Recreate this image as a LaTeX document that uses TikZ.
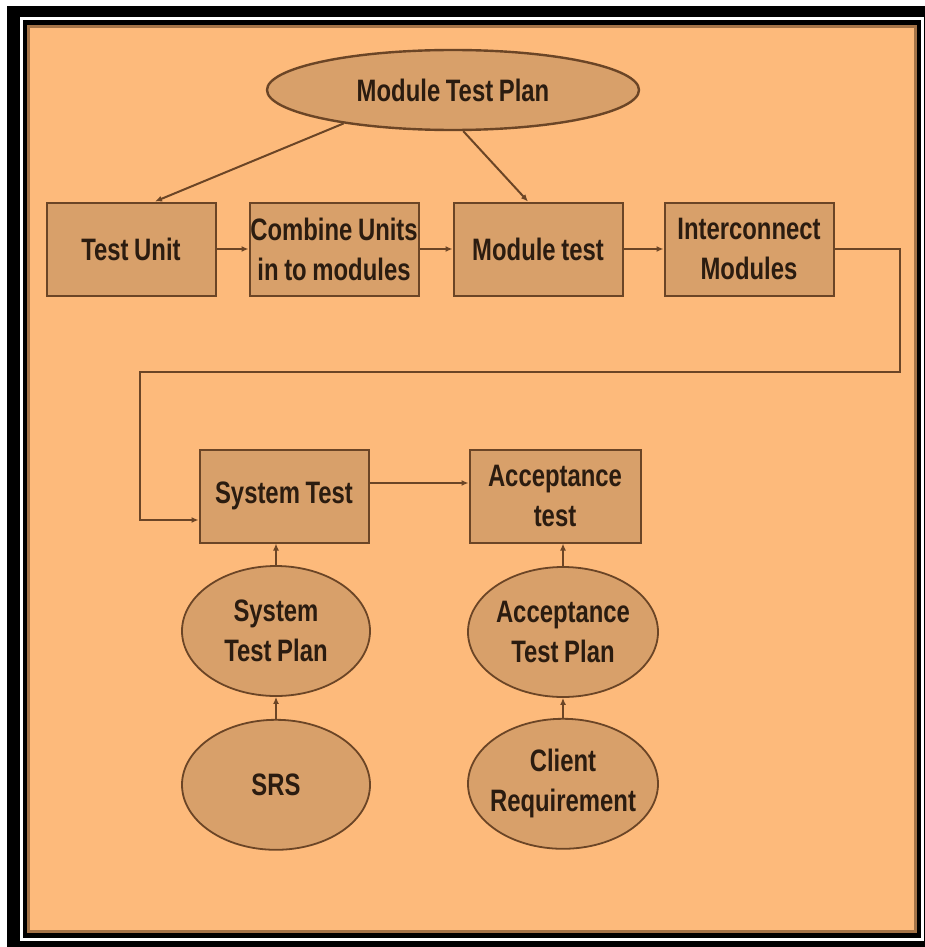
\documentclass[tikz,border=0pt]{standalone}
\usepackage{fontspec}
\setmainfont[FakeStretch=0.77, WordSpace=0.85]{Liberation Sans}
\usetikzlibrary{shapes, arrows.meta, positioning}
\definecolor{panelbg}{HTML}{FDBA7B}
\definecolor{nodefill}{HTML}{D8A06A}
\definecolor{edgebrown}{HTML}{6B4526}
\definecolor{inkdark}{HTML}{2B1C10}
\begin{document}
\begin{tikzpicture}[x=1pt, y=-1pt, node distance=32pt,
        block/.style={rectangle, draw=edgebrown, line width=2pt, fill=nodefill, text width=185pt, inner xsep=-8pt, minimum height=93pt, align=flush center, text=inkdark, font=\fontsize{31}{40}\selectfont\bfseries},
        plan/.style={ellipse, draw=edgebrown, line width=1.8pt, fill=nodefill, minimum width=188pt, minimum height=130pt, inner xsep=-12pt, inner ysep=0pt, align=center, text=inkdark, font=\fontsize{31}{40}\selectfont\bfseries},
        line/.style={draw=edgebrown, line width=2pt, -{Latex[length=7pt,width=6pt]}}]

        % frame
        \fill[white] (0,0) rectangle (925,947);
        \useasboundingbox (0,0) rectangle (925,947);
        \fill[black] (7,6) rectangle (925,947);
        \draw[white, line width=2.5pt] (21.5,18.5) rectangle (922.5,939.5);
        \fill[panelbg] (27,25) rectangle (917,933);
        \draw[edgebrown!60!panelbg, line width=3pt] (28.5,26.5) rectangle (915.5,931.5);

        \node [plan, minimum width=372pt, minimum height=80pt, line width=2.4pt] (mtp) at (453,90) {Module Test Plan};
        \node [block] (tu) at (131,249) {Test Unit};
        \node [block, right=of tu] (cu) {Combine Units\\in to modules};
        \node [block, right=33pt of cu] (mt) {Module test};
        \node [block, right=40pt of mt] (ic) {Interconnect\\Modules};

        \node [block] (st) at (284,496) {System Test};
        \node [block, inner xsep=-7pt] (at) at (555,496) {Acceptance\\test};

        \node [plan] (stp) at (276,631) {System\\Test Plan};
        \node [plan, below=22pt of stp] (srs) {SRS};
        \node [plan, minimum width=190pt] (atp) at (563,632) {Acceptance\\Test Plan};
        \node [plan, minimum width=190pt, below=20pt of atp] (cr) {Client\\Requirement};

        \path [line] (mtp.197) -- ([xshift=24pt]tu.north);
        \path [line] (mtp.284) -- ([xshift=-10pt]mt.north);
        \path [line] (tu) -- (cu);
        \path [line] (cu) -- (mt);
        \path [line] (mt) -- (ic);

        % return line to the system test
        \coordinate (r1) at (900,372);
        \coordinate (r2) at (140,520);
        \path [line] (ic.east) -| (r1) -| (r2) -- (r2 -| st.west);

        \path [line] ([yshift=13pt]st.east) -- ([yshift=13pt]at.west);
        \path [line] (stp.north) -- (stp.north |- st.south);
        \path [line] (srs) -- (stp);
        \path [line] (atp.north) -- (atp.north |- at.south);
        \path [line] (cr) -- (atp);
    \end{tikzpicture}
\end{document}
